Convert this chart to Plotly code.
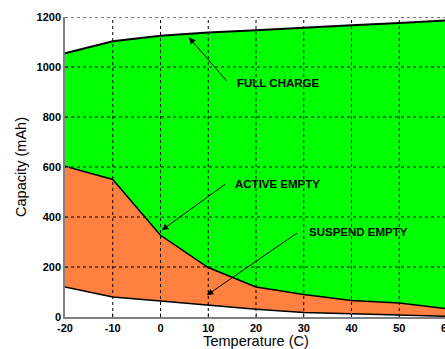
import plotly.graph_objects as go

temps = [-20, -10, 0, 10, 20, 30, 40, 50, 60]
full_charge = [1055, 1103, 1125, 1138, 1147, 1158, 1167, 1176, 1186]
active_empty = [603, 550, 327, 198, 120, 90, 66, 56, 33]
suspend_empty = [120, 80, 64, 46, 31, 18, 13, 7, 3]

x_ticks = [-20, -10, 0, 10, 20, 30, 40, 50, 60]
x_tick_text = ["-20", "-10", "0", "10", "20", "30", "40", "50", "60"]
y_ticks = [0, 200, 400, 600, 800, 1000, 1200]

fig = go.Figure()
fig.add_trace(go.Scatter(x=temps, y=suspend_empty, mode="lines",
                         line=dict(color="black", width=1.5), showlegend=False))
fig.add_trace(go.Scatter(x=temps, y=active_empty, mode="lines", fill="tonexty",
                         fillcolor="#FF8040",
                         line=dict(color="black", width=1.5), showlegend=False))
fig.add_trace(go.Scatter(x=temps, y=full_charge, mode="lines", fill="tonexty",
                         fillcolor="#00FF00",
                         line=dict(color="black", width=2), showlegend=False))

# dashed grid drawn above the filled areas (as in the reference)
grid_line = dict(color="black", width=1, dash="3px,3px")
for xv in x_ticks[1:]:
    fig.add_shape(type="line", xref="x", yref="y domain", x0=xv, x1=xv, y0=0, y1=1,
                  line=grid_line, layer="above")
for yv in y_ticks[1:]:
    fig.add_shape(type="line", xref="x domain", yref="y", x0=0, x1=1, y0=yv, y1=yv,
                  line=grid_line, layer="above")

tfont = dict(family="Arial", size=11, color="black", weight="bold")
afont = dict(family="Arial", size=11.5, color="black", weight="bold")

# arrows (tail -> head), data coords
arrows = [
    ((14.1, 939), (5.97, 1118)),
    ((13.9, 536), (0.25, 347)),
    ((28.9, 340), (9.7, 87)),
]
for (tx, ty), (hx, hy) in arrows:
    fig.add_annotation(x=hx, y=hy, ax=tx, ay=ty, axref="x", ayref="y",
                       xref="x", yref="y", text="", showarrow=True,
                       arrowhead=2, arrowsize=1.3, arrowwidth=1, arrowcolor="black")

labels = [("FULL CHARGE", 15.7, 936), ("ACTIVE EMPTY", 15.1, 531), ("SUSPEND EMPTY", 30.7, 339)]
for txt, x, y in labels:
    fig.add_annotation(x=x, y=y, xref="x", yref="y", text=txt, showarrow=False,
                       xanchor="left", yanchor="middle", font=afont)

fig.update_layout(
    width=447, height=349,
    margin=dict(l=65, r=0, t=17, b=32),
    paper_bgcolor="white", plot_bgcolor="white",
    font=dict(family="Arial", color="black"),
)
fig.update_xaxes(range=[-20, 60], tickvals=x_ticks, ticktext=x_tick_text, showgrid=False,
                 showline=True, linecolor="#808080", linewidth=1.5,
                 ticks="inside", ticklen=4, tickcolor="#808080",
                 tickfont=tfont, zeroline=False, ticklabeloverflow="allow",
                 layer="above traces", automargin=False,
                 title=dict(text="Temperature (C)", font=dict(size=14.5, family="Arial"), standoff=6))
fig.update_yaxes(range=[0, 1200], tickvals=y_ticks, showgrid=False,
                 showline=True, linecolor="#808080", linewidth=1.5,
                 ticks="inside", ticklen=4, tickcolor="#808080",
                 tickfont=tfont, zeroline=False, layer="above traces", automargin=False,
                 title=dict(text="Capacity (mAh)", font=dict(size=14.5, family="Arial"), standoff=6))

fig.write_html("out.html", post_script="document.documentElement.style.overflow='hidden';document.body.style.overflow='hidden';")
